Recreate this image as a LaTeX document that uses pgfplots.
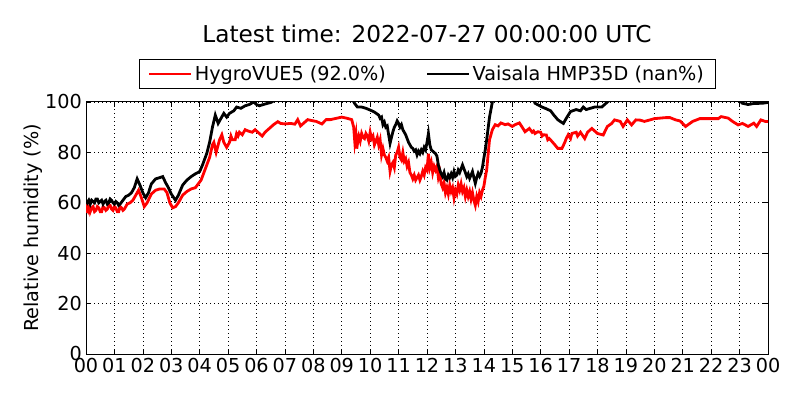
\documentclass[border=0pt]{standalone}
\usepackage{fontspec}
\setmainfont{DejaVu Sans}
\usepackage{pgfplots}
\pgfplotsset{compat=1.18}
\begin{document}
\begin{tikzpicture}
\path[use as bounding box] (0,0) rectangle (800bp,400bp);
\begin{axis}[
  at={(86bp,46bp)}, anchor=south west,
  scale only axis, width=682bp, height=252bp,
  xmin=0, xmax=24, ymin=0, ymax=100,
  xtick={0,1,...,24},
  xticklabels={00,01,02,03,04,05,06,07,08,09,10,11,12,13,14,15,16,17,18,19,20,21,22,23,00},
  ytick={0,20,40,60,80,100},
  /pgf/number format/assume math mode=true,
  tick label style={font=\fontsize{19.3}{22}\selectfont},
  xticklabel style={inner sep=1bp, yshift=-3bp},
  yticklabel style={inner sep=1bp, xshift=-3bp},
  tick align=inside, major tick length=5bp,
  tick style={black, line width=0.6bp},
  axis line style={line width=1bp},
  grid=major,
  major grid style={black, line width=0.6bp, dash pattern=on 1bp off 3bp},
  ylabel={Relative humidity (\%)},
  ylabel style={font=\fontsize{19.3}{22}\selectfont, yshift=-2bp},
  legend columns=2,
  legend style={at={(0.5,1)}, anchor=south, yshift=13bp,
    draw=black, line width=0.8bp, inner xsep=9bp, inner ysep=4.5bp,
    font=\fontsize{19.3}{22}\selectfont,
    /tikz/every even column/.append style={column sep=38bp}},
  legend image code/.code={\draw[#1] (0bp,0bp) -- (42bp,0bp);},
]
\addplot[red, line width=2.8bp] coordinates {
(0.00,56) (0.04,58.5) (0.08,57) (0.12,58.5) (0.15,56.5) (0.2,58) (0.25,58.5) (0.3,56.5) (0.35,57) (0.4,58.5) (0.45,58) (0.5,56.5) (0.55,56.5) (0.6,58.5) (0.65,58) (0.7,57) (0.75,57.5) (0.8,59) (0.85,59)
(0.9,57.5) (0.95,57) (1.0,58.5) (1.05,58) (1.1,56.5) (1.15,56.5) (1.2,58.5) (1.25,58) (1.3,57) (1.35,57.5) (1.45,59.5) (1.55,60) (1.65,61) (1.75,63) (1.85,65)
(1.95,62) (2.05,58.5) (2.15,60) (2.3,63.5) (2.45,65) (2.6,65.5) (2.75,65.5) (2.85,64) (2.95,60) (3.05,58)
(3.15,58.5) (3.25,60) (3.4,63) (3.55,64.5) (3.7,65.5) (3.85,66) (3.95,67.5) (4.05,69) (4.15,72) (4.25,75)
(4.35,78) (4.45,83) (4.5,84) (4.58,80) (4.7,85) (4.78,87) (4.85,84) (4.95,82) (5.05,84) (5.1,86.5) (5.15,85)
(5.25,85) (5.3,87.5) (5.35,86.5) (5.4,88) (5.5,87) (5.6,89) (5.7,88.5) (5.85,88) (5.95,89) (6.05,88) (6.2,86.5) (6.3,88)
(6.45,89.5) (6.6,91) (6.75,92.2) (6.85,91.5) (7.0,91.3) (7.2,91.5) (7.35,91.2) (7.45,93) (7.55,90.5) (7.7,92)
(7.8,93) (8.0,92.5) (8.1,92.3) (8.3,91.3) (8.45,93) (8.6,93) (8.8,93.5) (9.0,94) (9.2,93.5) (9.35,93)
(9.42,90) (9.46,84) (9.5,87) (9.53,81.5) (9.57,85) (9.6,86.5) (9.65,84.5) (9.7,87.5) (9.75,86) (9.8,85.5) (9.85,87.5) (9.9,86.5) (9.95,84.5) (10.0,88) (10.05,85.5) (10.1,86.5) (10.15,83) (10.2,84.5) (10.25,86) (10.3,83) (10.35,85) (10.4,79) (10.45,81.5) (10.5,79) (10.55,78) (10.6,76.5) (10.65,78) (10.7,72.5) (10.75,75) (10.8,76) (10.85,74) (10.9,79) (10.95,80) (11.0,82) (11.05,78) (11.1,77) (11.15,80) (11.2,76.5) (11.25,77.5) (11.3,74.5) (11.35,76) (11.4,72) (11.45,71) (11.5,69.5) (11.55,71) (11.6,69) (11.65,70) (11.7,71) (11.75,69) (11.8,70.5) (11.85,72.5) (11.9,71) (11.95,74) (12.0,73) (12.05,79.5) (12.1,74) (12.15,76) (12.2,72) (12.25,74.5) (12.3,73) (12.35,74.5) (12.4,70) (12.45,72) (12.5,67.5) (12.55,66) (12.6,68) (12.65,64) (12.7,66) (12.75,63.5) (12.8,67) (12.85,64.5) (12.9,66) (12.95,62) (13.0,65) (13.05,63.5) (13.1,67) (13.15,65) (13.2,67.5) (13.25,64.5) (13.3,66) (13.35,62.5) (13.4,65) (13.45,62.5) (13.5,64.5) (13.55,61.5) (13.6,64) (13.65,61) (13.7,59) (13.75,62.5) (13.8,60.5) (13.85,64) (13.9,62.5) (13.95,65) (14.0,66.5) (14.05,70) (14.1,73) (14.15,79) (14.2,85)
(14.3,89) (14.4,91) (14.5,90.5) (14.6,91.7) (14.75,91) (14.85,91.3) (15.0,90.3) (15.1,91) (15.25,91.7) (15.35,90) (15.45,88.2)
(15.6,89.5) (15.7,88) (15.75,88.5) (15.8,87.5) (15.9,88.2) (16.0,88) (16.05,86.5) (16.1,87) (16.2,86.9) (16.25,85) (16.3,85.5) (16.4,84.3) (16.5,83) (16.6,81.6)
(16.75,81.6) (16.85,84) (16.9,85.5) (16.97,87) (17.05,85.5) (17.1,87.5) (17.25,88) (17.3,86.5) (17.4,88) (17.55,85.5) (17.65,88) (17.8,89.5) (17.9,88.5)
(18.0,87.5) (18.2,86.9) (18.35,90.3) (18.5,91.5) (18.6,92.9) (18.8,92.3) (18.9,90.3) (19.05,92.9) (19.2,90.9) (19.35,92.9)
(19.5,92.8) (19.65,92.3) (19.85,92.9) (20.0,93.4) (20.4,93.8) (20.55,93.8) (20.75,92.9) (20.9,92.5) (21.1,90.3) (21.25,91.5)
(21.35,92.3) (21.6,93.4) (22.25,93.4) (22.35,94.2) (22.6,93.6) (22.75,92.3) (22.95,90.9) (23.1,91.5) (23.3,90.3) (23.5,91.6)
(23.6,90.3) (23.75,92.9) (23.9,92.3) (24.0,92.3)
};
\addlegendentry{HygroVUE5 (92.0\%)}
\addplot[black, line width=2.8bp] coordinates {
(0.00,61) (0.05,60) (0.1,61) (0.15,59.5) (0.2,61) (0.25,60.5) (0.3,60) (0.35,61.5) (0.4,61.5) (0.45,60) (0.5,60.5) (0.55,61) (0.6,59.5) (0.65,60.5) (0.7,61) (0.75,59.5) (0.8,60) (0.85,61.5) (0.9,61)
(0.95,60) (1.0,59.5) (1.05,60.5) (1.1,60) (1.15,59) (1.2,59.5) (1.3,61) (1.4,62.5) (1.5,63) (1.6,64) (1.7,66) (1.8,69.5) (1.9,67)
(2.0,64) (2.1,62) (2.2,64) (2.3,67.5) (2.45,69.5) (2.6,70) (2.7,70.4) (2.8,68) (2.9,66) (3.0,63.5)
(3.15,61) (3.25,63) (3.4,67) (3.55,69) (3.7,70.4) (3.85,71.5) (4.0,72.4) (4.1,75) (4.25,79.6) (4.35,84)
(4.45,90) (4.55,94.8) (4.65,91.5) (4.75,93.5) (4.85,95.5) (4.95,94) (5.05,95.5) (5.2,96.5) (5.3,98) (5.45,97.5)
(5.6,98.5) (5.75,99) (5.9,100) (6.0,99) (6.1,98.5) (6.3,99.2) (6.5,99.8) (6.7,101) (6.9,103) (9.3,103)
(9.4,100.5) (9.45,99.5) (9.55,98) (9.7,98) (9.85,97.5) (10.0,96.8) (10.15,96) (10.3,94.8) (10.35,93.5) (10.4,94) (10.45,91) (10.5,92) (10.55,90) (10.6,90.5) (10.65,87) (10.7,83.6) (10.75,86) (10.8,88.2) (10.85,90) (10.9,91) (10.95,92.5) (11.0,91.5) (11.05,90) (11.1,91) (11.15,89) (11.2,88) (11.25,87) (11.3,85.5) (11.35,84) (11.4,83) (11.45,82) (11.5,81.6) (11.55,80.5) (11.6,81) (11.65,79) (11.7,80.5) (11.75,79.5) (11.8,81) (11.85,80) (11.9,82) (11.95,81) (12.0,84) (12.05,87.5) (12.1,83) (12.15,81) (12.2,80.5) (12.25,80) (12.3,79.5) (12.35,78.5) (12.4,75) (12.45,73) (12.5,71.5) (12.55,70.4) (12.6,72) (12.65,69.5) (12.7,69) (12.75,71) (12.8,70) (12.85,71.5) (12.9,70) (12.95,72.4) (13.0,70.5) (13.05,71) (13.1,73) (13.15,72) (13.2,73.5) (13.25,75) (13.3,73.5) (13.35,72) (13.4,70.4) (13.45,71.5) (13.5,69.7) (13.55,71) (13.6,72.4) (13.65,70) (13.7,67.7) (13.75,70) (13.8,71.7) (13.85,70.5) (13.9,71.7) (13.95,74) (14.0,77.6) (14.05,81) (14.1,85) (14.2,94)
(14.3,100) (14.35,103) (15.7,103) (15.8,99.5) (15.9,98.9) (16.05,98) (16.2,97.3) (16.35,96.5) (16.45,95) (16.6,93)
(16.7,92.2) (16.8,91.5) (16.9,93.5) (17.05,96.2) (17.25,97) (17.4,96.5) (17.5,98) (17.6,97) (17.75,97.5) (17.9,98)
(18.0,98) (18.15,98) (18.3,99.5) (18.45,101) (18.55,103) (23.0,103) (23.05,100) (23.1,99.5) (23.3,99) (23.5,99.4)
(23.8,99.5) (24.0,99.8)
};
\addlegendentry{Vaisala HMP35D (nan\%)}
\end{axis}
\node[anchor=base, font=\fontsize{23.3}{27}\selectfont] at (427bp,357.7bp) {Latest time: 2022-07-27 00:00:00 UTC};
\end{tikzpicture}
\end{document}
